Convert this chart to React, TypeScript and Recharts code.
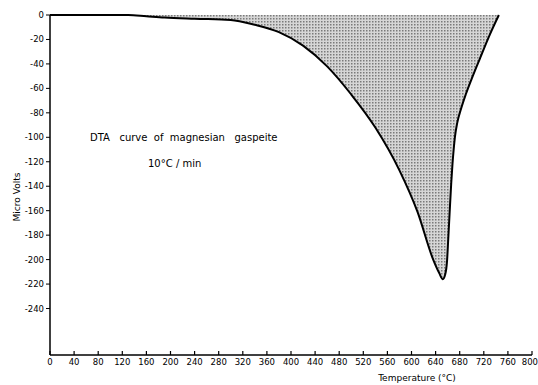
import React from 'react';
import { ComposedChart, Area, XAxis, YAxis, Label } from 'recharts';

// temperature (°C) and DTA signal (micro volts)
const temps = [0, 80, 130, 160, 190, 240, 300, 340, 380, 420, 460, 500, 540, 580, 610, 636, 646, 652, 656, 659, 661, 664, 666, 668, 670, 672, 676, 682, 690, 700, 714, 730, 745];
const volts = [0, 0, 0, -1, -2, -3, -4, -8, -14, -25, -42, -65, -92, -127, -161, -200, -211, -216, -212, -201, -183, -155, -137, -122, -110, -100, -88, -77, -65, -52, -35, -16, 0];

const xTicks = [0, 40, 80, 120, 160, 200, 240, 280, 320, 360, 400, 440, 480, 520, 560, 600, 640, 680, 720, 760, 800];
const yTicks = [0, -20, -40, -60, -80, -100, -120, -140, -160, -180, -200, -220, -240];

const data = temps.map((t, i) => ({ t, v: volts[i] }));

const FONT = '"DejaVu Sans", sans-serif';

const XTick = (props: any) => {
  const { x, y, payload } = props;
  const last = payload.value === 800;
  return (
    <g>
      <line x1={x} y1={y} x2={x} y2={y - 4} stroke="#000" strokeWidth={1.2} />
      <text
        x={last ? x + 6 : x}
        y={y + 10}
        textAnchor={last ? 'end' : 'middle'}
        fontSize={8.5}
        fontFamily={FONT}
        fill="#000"
      >
        {payload.value}
      </text>
    </g>
  );
};

export default function App() {
  return (
    <div style={{ position: 'absolute', left: 0, top: 0, width: 538, height: 385, background: '#fff' }}>
      <ComposedChart width={538} height={385} data={data} margin={{ top: 15, right: 6, bottom: 0, left: 0 }}>
        <defs>
          <pattern id="dots" width="3" height="3" patternUnits="userSpaceOnUse">
            <rect width="3" height="3" fill="#d6d6d6" />
            <rect width="1.5" height="1.5" fill="#7a7a7a" />
          </pattern>
        </defs>
        <XAxis
          dataKey="t"
          type="number"
          domain={[0, 800]}
          ticks={xTicks}
          interval={0}
          height={30}
          tickSize={0}
          tickMargin={0}
          tick={<XTick />}
          axisLine={{ stroke: '#000', strokeWidth: 1.5 }}
        >
          <Label
            content={() => (
              <text x={417} y={381} textAnchor="middle" fontSize={9} fontFamily={FONT} fill="#000">
                Temperature (°C)
              </text>
            )}
          />
        </XAxis>
        <YAxis
          type="number"
          domain={[-278, 0]}
          ticks={yTicks}
          interval={0}
          width={50}
          tickSize={4}
          tickMargin={2}
          tick={{ fontSize: 8.5, fontFamily: FONT, fill: '#000' }}
          tickLine={{ stroke: '#000' }}
          axisLine={{ stroke: '#000', strokeWidth: 1.5 }}
        >
          <Label
            content={() => (
              <text
                x={20}
                y={197}
                transform="rotate(-90 20 197)"
                textAnchor="middle"
                fontSize={9}
                fontFamily={FONT}
                fill="#000"
              >
                Micro Volts
              </text>
            )}
          />
        </YAxis>
        <Area
          dataKey="v"
          type="monotone"
          baseValue={0}
          stroke="#000"
          strokeWidth={2}
          fill="url(#dots)"
          fillOpacity={1}
          dot={false}
          activeDot={false}
          isAnimationActive={false}
        />
      </ComposedChart>
      <div
        style={{
          position: 'absolute',
          left: 90,
          top: 132,
          fontFamily: FONT,
          fontSize: 10,
          whiteSpace: 'pre',
          lineHeight: '12px',
        }}
      >
        DTA   curve  of  magnesian   gaspeite
      </div>
      <div
        style={{
          position: 'absolute',
          left: 148,
          top: 158,
          fontFamily: FONT,
          fontSize: 10,
          whiteSpace: 'pre',
          lineHeight: '12px',
        }}
      >
        10°C / min
      </div>
    </div>
  );
}
